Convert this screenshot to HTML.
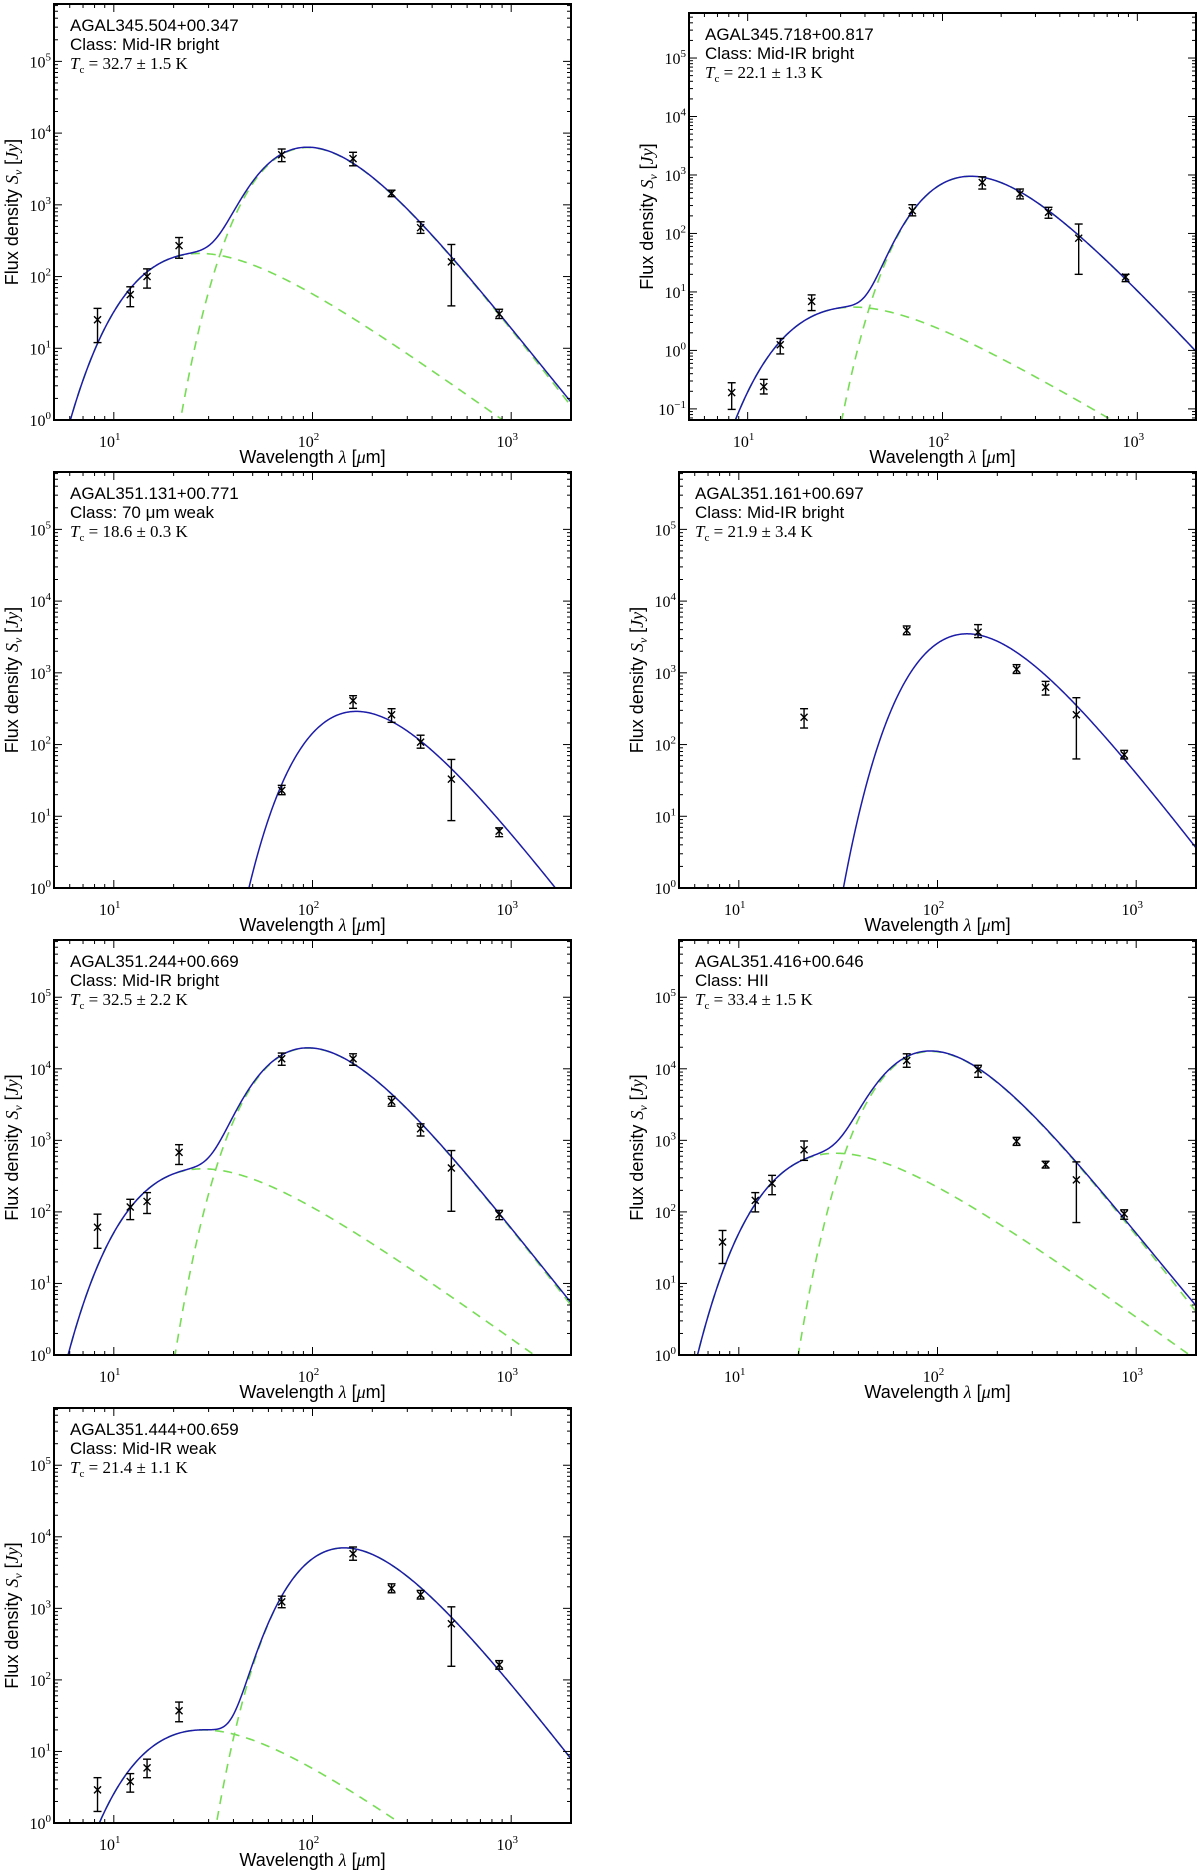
<!DOCTYPE html>
<html><head><meta charset="utf-8"><title>SED fits</title>
<style>
html,body{margin:0;padding:0;background:#fff;}
svg{display:block;}
.tick{font-family:"Liberation Serif",serif;font-size:16px;fill:#000;}
.lab{font-family:"Liberation Sans",sans-serif;font-size:18px;fill:#000;}
.info{font-family:"Liberation Sans",sans-serif;font-size:17px;fill:#000;}
.tinfo{font-family:"Liberation Serif",serif;font-size:17px;fill:#000;}
</style></head>
<body>
<svg id="fig" xmlns="http://www.w3.org/2000/svg" width="1200" height="1874" viewBox="0 0 1200 1874"></svg>
<script>
// ---- data (one entry per panel) ----
const sourceNames = ["AGAL345.504+00.347","AGAL345.718+00.817","AGAL351.131+00.771","AGAL351.161+00.697","AGAL351.244+00.669","AGAL351.416+00.646","AGAL351.444+00.659"];
const classNames = ["Mid-IR bright","Mid-IR bright","70 \u03bcm weak","Mid-IR bright","Mid-IR bright","HII","Mid-IR weak"];
const tempLabels = ["32.7 \u00b1 1.5","22.1 \u00b1 1.3","18.6 \u00b1 0.3","21.9 \u00b1 3.4","32.5 \u00b1 2.2","33.4 \u00b1 1.5","21.4 \u00b1 1.1"];
const wavelengths = [8.28,12.1,14.7,21.3,70,160,250,350,500,870];
// null = no measurement
const flux1 = [25,56,100,270,5000,4400,1450,480,160,30];
const lo1   = [12,38,69,180,4000,3500,1300,400,39,26];
const hi1   = [36,72,128,350,6000,5400,1600,580,280,35];
const flux2 = [0.19,0.24,1.25,6.9,245,745,475,230,83,18];
const lo2   = [0.098,0.18,0.87,4.8,200,575,390,182,20,15];
const hi2   = [0.28,0.32,1.6,8.9,310,930,575,280,145,20];
const flux3 = [null,null,null,null,23,410,260,108,33,6.2];
const lo3   = [null,null,null,null,20,320,204,89,8.7,5.2];
const hi3   = [null,null,null,null,27,480,316,135,62,6.9];
const flux4 = [null,null,null,240,3900,3700,1120,630,260,72];
const lo4   = [null,null,null,170,3400,3100,980,490,63,63];
const hi4   = [null,null,null,316,4500,4700,1300,760,450,83];
const flux5 = [61,117,140,680,13800,13800,3500,1450,410,92];
const lo5   = [31,78,95,460,11200,11200,3000,1150,102,78];
const hi5   = [93,150,186,870,16600,16200,4100,1700,720,105];
const flux6 = [38,145,250,740,13000,9700,970,460,280,94];
const lo6   = [19,100,174,525,10500,7600,850,410,71,79];
const hi6   = [55,186,324,980,16200,11200,1100,510,500,107];
const flux7 = [2.9,3.8,5.9,37,1230,5800,1900,1550,610,162];
const lo7   = [1.45,2.7,4.3,26,1020,4700,1650,1350,155,141];
const hi7   = [4.3,4.9,7.8,49,1480,7200,2200,1780,1050,186];
// model parameters (greybody components)
const coldTemps = [32.7,22.1,18.6,21.9,32.5,33.4,21.4];
const coldPeaks = [6300,950,290,3500,19500,17500,7000];
const warmTemps = [189,146,0,0,182,165,182];
const warmPeaks = [210,5.5,0,0,400,660,20];
// y-axis decade ranges
const yMinLog = [0,-1.19,0,0,0,0,0];
const yMaxLog = [5.8,5.77,5.8,5.8,5.8,5.8,5.8];

const fluxes = [flux1,flux2,flux3,flux4,flux5,flux6,flux7];
const errLo = [lo1,lo2,lo3,lo4,lo5,lo6,lo7];
const errHi = [hi1,hi2,hi3,hi4,hi5,hi6,hi7];

// ---- layout ----
const frames = [
  {L:54,R:571,T:4,B:420},{L:689,R:1196,T:13,B:420},
  {L:54,R:571,T:472,B:888},{L:679,R:1196,T:472,B:888},
  {L:54,R:571,T:940,B:1355},{L:679,R:1196,T:940,B:1355},
  {L:54,R:571,T:1408,B:1823}
];
const COLDP = 4.7, WARMP = 3;
const XMIN = Math.log10(5), XMAX = Math.log10(2000);
const NS = "http://www.w3.org/2000/svg";
const svg = document.getElementById("fig");
function mk(tag, attrs, parent){
  const e = document.createElementNS(NS, tag);
  for (const k in attrs) e.setAttribute(k, attrs[k]);
  (parent||svg).appendChild(e);
  return e;
}
function shape(lam, T, p){ return Math.pow(lam,-p)/(Math.exp(14388/(lam*T))-1); }
function peakOf(T,p){ let m=0; for(let i=0;i<=2000;i++){const l=Math.pow(10,0.5+i*0.002); const v=shape(l,T,p); if(v>m)m=v;} return m; }

frames.forEach((f,i)=>{
  const g = mk("g",{});
  
  
  const xs = v => f.L + (Math.log10(v)-XMIN)/(XMAX-XMIN)*(f.R-f.L);
  const ys = v => f.B - (Math.log10(v)-yMinLog[i])/(yMaxLog[i]-yMinLog[i])*(f.B-f.T);
  const cid = 'clip'+i;
  const cp = mk("clipPath",{id:cid},g);
  mk("rect",{x:f.L,y:f.T,width:f.R-f.L,height:f.B-f.T},cp);

  const cT=coldTemps[i], wT=warmTemps[i];
  const cN = peakOf(cT,COLDP), wN = wT?peakOf(wT,WARMP):1;
  let pc="",pw="",pt="";
  for(let k=0;k<=500;k++){
    const lg = XMIN + (XMAX-XMIN)*k/500, lam = Math.pow(10,lg);
    const c = coldPeaks[i]*shape(lam,cT,COLDP)/cN;
    const w = wT? warmPeaks[i]*shape(lam,wT,WARMP)/wN : 0;
    const X = xs(lam).toFixed(2);
    const yc = Math.min(f.B+50, ys(Math.max(c,1e-30)));
    const yw = Math.min(f.B+50, ys(Math.max(w,1e-30)));
    const yt = Math.min(f.B+50, ys(Math.max(c+w,1e-30)));
    pc += (k?"L":"M")+X+","+yc.toFixed(2);
    pw += (k?"L":"M")+X+","+yw.toFixed(2);
    pt += (k?"L":"M")+X+","+yt.toFixed(2);
  }
  const cg = mk("g",{"clip-path":"url(#"+cid+")"},g);
  if (wT){
    const d1 = mk("path",{d:pc,fill:"none",stroke:"#77dd55","stroke-width":1.6,"stroke-dasharray":"9,7"},cg);
    
    
    const d2 = mk("path",{d:pw,fill:"none",stroke:"#77dd55","stroke-width":1.6,"stroke-dasharray":"9,7"},cg);
    
    
  }
  const tl = mk("path",{d:pt,fill:"none",stroke:"#1c1ca8","stroke-width":1.5},cg);
  
  

  const fl = fluxes[i], lo = errLo[i], hi = errHi[i];
  wavelengths.forEach((w,j)=>{
    if (fl[j]==null) return;
    const X = xs(w), Y = ys(fl[j]), Y1 = ys(lo[j]), Y2 = ys(hi[j]);
    const pg = mk("g",{stroke:"#000","stroke-width":1.4,fill:"none"},cg);
    
    
    mk("line",{x1:X,y1:Y1,x2:X,y2:Y2},pg);
    mk("line",{x1:X-4,y1:Y1,x2:X+4,y2:Y1},pg);
    mk("line",{x1:X-4,y1:Y2,x2:X+4,y2:Y2},pg);
    mk("path",{d:`M${X-3.5},${Y-3.5}L${X+3.5},${Y+3.5}M${X-3.5},${Y+3.5}L${X+3.5},${Y-3.5}`},pg);
  });

  const tg = mk("g",{stroke:"#000","stroke-width":1},g);
  
  
  for(let d=0; d<=3; d++){
    for(let m=1;m<10;m++){
      const v = m*Math.pow(10,d); const lg=Math.log10(v);
      if (lg<XMIN-1e-9||lg>XMAX+1e-9) continue;
      const X = xs(v), len = m==1?8:4;
      mk("line",{x1:X,y1:f.B,x2:X,y2:f.B-len},tg);
      mk("line",{x1:X,y1:f.T,x2:X,y2:f.T+len},tg);
      if (m==1){
        const t = mk("text",{x:X-4,y:f.B+27,"text-anchor":"middle",class:"tick",stroke:"none"},g);
        
        
        t.innerHTML = '10<tspan dy="-7" font-size="11">'+d+'</tspan>';
      }
    }
  }
  for(let d=Math.floor(yMinLog[i]); d<=6; d++){
    for(let m=1;m<10;m++){
      const v = m*Math.pow(10,d); const lg=Math.log10(v);
      if (lg<yMinLog[i]-1e-9||lg>yMaxLog[i]+1e-9) continue;
      const Y = ys(v), len = m==1?8:4;
      mk("line",{x1:f.L,y1:Y,x2:f.L+len,y2:Y},tg);
      mk("line",{x1:f.R,y1:Y,x2:f.R-len,y2:Y},tg);
      if (m==1){
        const t = mk("text",{x:f.L-3,y:Y+6,"text-anchor":"end",class:"tick",stroke:"none"},g);
        
        
        t.innerHTML = '10<tspan dy="-7" font-size="11">'+(d<0?'\u2212'+(-d):d)+'</tspan>';
      }
    }
  }
  const fr = mk("rect",{x:f.L,y:f.T,width:f.R-f.L,height:f.B-f.T,fill:"none",stroke:"#000","stroke-width":2},g);
  
  

  const xl = mk("text",{x:(f.L+f.R)/2,y:f.B+43,"text-anchor":"middle",class:"lab"},g);
  
  
  xl.innerHTML = 'Wavelength <tspan font-family="Liberation Serif" font-style="italic">\u03bb</tspan> [<tspan font-family="Liberation Serif" font-style="italic">\u03bc</tspan>m]';
  const cy = (f.T+f.B)/2;
  const yl = mk("text",{x:f.L-42,y:cy,"text-anchor":"middle",class:"lab",transform:`rotate(-90 ${f.L-42} ${cy})`,dy:"6"},g);
  
  
  yl.innerHTML = 'Flux density <tspan font-family="Liberation Serif" font-style="italic">S<tspan font-size="12" dy="4">\u03bd</tspan></tspan><tspan dy="-4"> [</tspan><tspan font-family="Liberation Serif" font-style="italic">Jy</tspan>]';

  const n1 = mk("text",{x:f.L+16,y:f.T+27,class:"info"},g);
  
  
  n1.textContent = sourceNames[i];
  const n2 = mk("text",{x:f.L+16,y:f.T+46,class:"info"},g);
  
  
  n2.textContent = 'Class: '+classNames[i];
  const n3 = mk("text",{x:f.L+16,y:f.T+65,class:"tinfo"},g);
  
  
  n3.innerHTML = '<tspan font-style="italic">T</tspan><tspan font-size="11" dy="4">c</tspan><tspan dy="-4"> = '+tempLabels[i]+' K</tspan>';
});
</script>
</body></html>
